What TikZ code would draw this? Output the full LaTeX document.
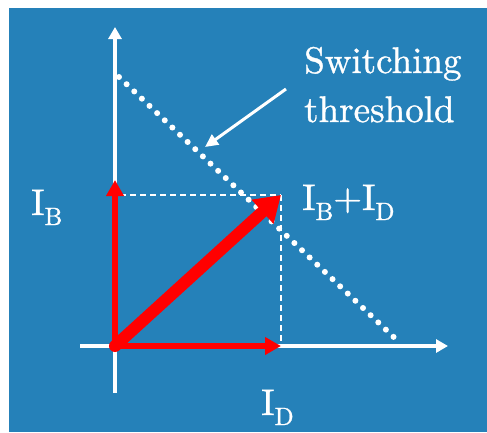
\documentclass[tikz,border=0pt]{standalone}
\usepackage{fontspec}
\newfontfamily\lmten{lmroman10-regular.otf}[FakeBold=1]
\usetikzlibrary{arrows.meta}
\definecolor{bgblue}{RGB}{37,129,185}
\definecolor{vecred}{RGB}{255,0,0}
\newcommand\mysub[1]{\raisebox{-10pt}{\fontsize{25}{25}\selectfont #1}}
\begin{document}
\begin{tikzpicture}[x=1pt,y=-1pt,
  axis/.style={draw=white,line width=4pt,-{Triangle[length=12pt,width=13pt]}},
  vec/.style={draw=vecred,line width=6.5pt,line cap=round,-{Triangle[length=16pt,width=17pt]}},
  bigvec/.style={draw=vecred,line width=12pt,line cap=round,-{Triangle[length=25pt,width=31pt]}},
  guide/.style={draw=white,line width=1.5pt,dash pattern=on 6pt off 4pt},
  thresh/.style={draw=white,line width=6pt,line cap=round,dash pattern=on 0pt off 10.5pt},
  pointer/.style={draw=white,line width=3pt,-{Triangle[length=13pt,width=12pt]}},
  lbl/.style={text=white,inner sep=0pt,anchor=base west,font=\lmten\fontsize{37}{49}\selectfont}]
\useasboundingbox (0,0) rectangle (487,432);
\fill[bgblue] (9,7.5) rectangle (487,432);
% coordinates
\coordinate (O) at (115,346);
\coordinate (Ytip) at (115,27);
\coordinate (Ybot) at (115,393);
\coordinate (Xleft) at (80,346);
\coordinate (Xtip) at (448,346);
\coordinate (B) at (115,180);
\coordinate (D) at (281,346);
\coordinate (S) at (281,195);
\coordinate (Bd) at (120,195);
\coordinate (T1) at (119,77);
\coordinate (T2) at (400,343);
\coordinate (P1) at (286,89);
\coordinate (P2) at (205,147);
% axes
\draw[axis] (Ybot) -- (Ytip);
\draw[axis] (Xleft) -- (Xtip);
% guides
\draw[guide] (Bd) -- (S);
\draw[guide] (S) -- (D);
% threshold
\draw[thresh] (T1) -- (T2);
% vectors
\draw[vec] (O) -- (B);
\draw[vec] (O) -- (D);
\draw[bigvec] (O) -- (S);
% pointer
\draw[pointer] (P1) -- (P2);
% labels
\node[lbl] (sw) at (304,73) {Switching};
\node[lbl] (th) at (304,122) {threshold};
\node[lbl] (ib) at (31,215) {I\mysub{B}};
\node[lbl] (ibd) at (302,210) {I\mysub{B}+I\mysub{D}};
\node[lbl] (id) at (261,415) {I\mysub{D}};
\end{tikzpicture}
\end{document}
